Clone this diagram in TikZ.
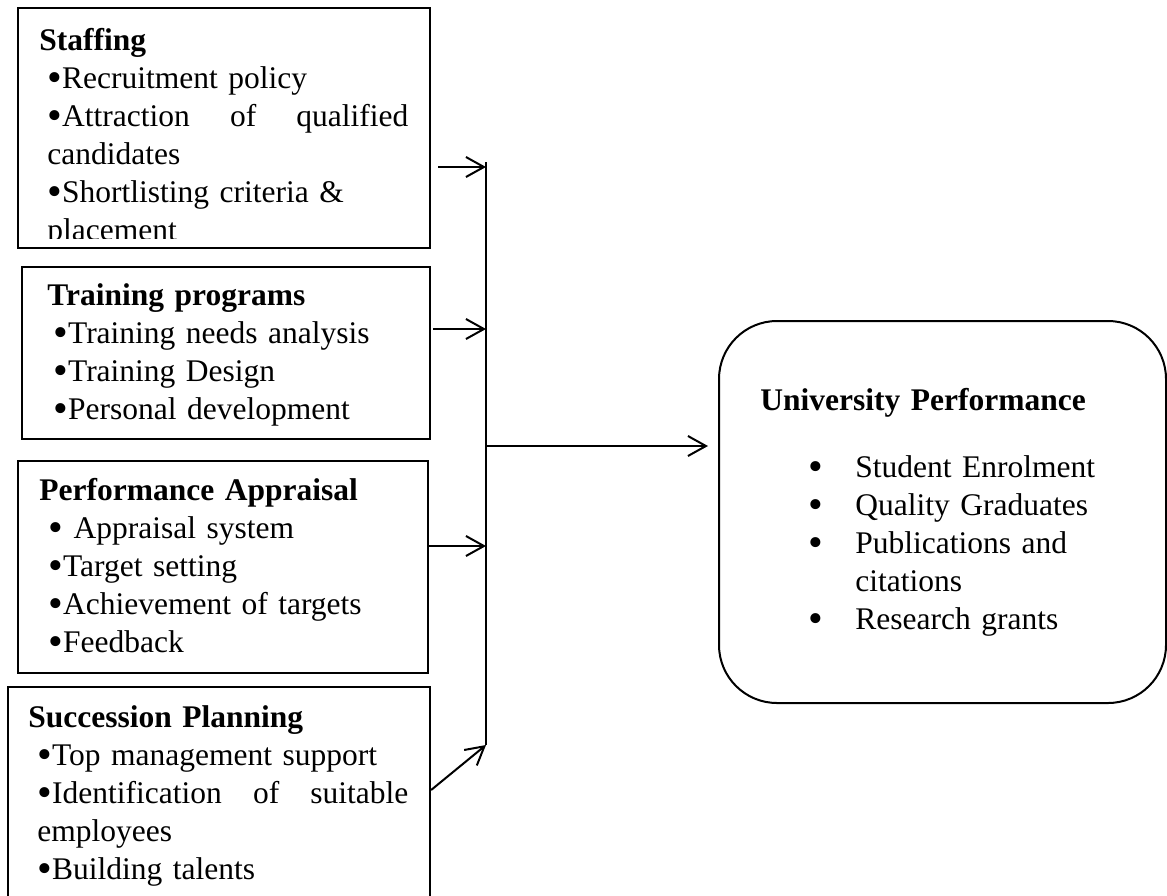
\documentclass[tikz,border=0pt]{standalone}
\usepackage{fontspec}
\setmainfont{Liberation Serif}
\usetikzlibrary{arrows.meta,calc}

\tikzset{
  hrmbox/.style={draw, line width=1.1pt, inner sep=0pt},
  hrmtext/.style={inner sep=0pt, anchor=base west, align=left, font=\fontsize{15.75}{19}\selectfont},
  flow/.style={line width=1pt, -{Straight Barb[length=9pt,width=10pt]}},
}
\newcommand{\spreadline}[2]{\leavevmode\hbox to #1{#2}}
\newcommand{\hrb}{\raisebox{-1.5pt}{\fontsize{21}{19}\selectfont•}}

\begin{document}
\begin{tikzpicture}[x=0.5pt,y=-0.5pt]
\useasboundingbox (0,0) rectangle (1167,895);
\clip (0,0) rectangle (1167,895);

% HR practice boxes
\node[hrmbox, minimum width=206pt, minimum height=120pt] (staff) at (224,128) {};
\node[hrmbox, minimum width=204pt, minimum height=86pt] (train) at (226,353) {};
\node[hrmbox, minimum width=205pt, minimum height=106pt] (apprs) at (223,567) {};
\node[hrmbox, minimum width=211pt, minimum height=114pt] (succ) at (219,801) {};

% outcome box
\node[hrmbox, line width=1pt, rounded corners=29pt, minimum width=223.5pt, minimum height=191pt] (perf) at (942.5,512) {};

% texts of the boxes
\begin{scope}
\clip (staff.north west) rectangle ([yshift=5.5pt]staff.south east);
\node[hrmtext, text width=180.5pt] (stafftxt) at (47,50) {\hspace*{-4pt}\textbf{Staffing}\\
\hrb Recruitment policy\\
\spreadline{180.5pt}{\hrb Attraction\hfill of\hfill qualified}\\
candidates\\
\hrb Shortlisting criteria \&\\
placement};
\end{scope}

\node[hrmtext, text width=185pt] (traintxt) at (53,305) {\hspace*{-3pt}\textbf{Training programs}\\
\hrb Training needs analysis\\
\hrb Training Design\\
\hrb Personal development};

\node[hrmtext, text width=185pt] (apprstxt) at (48,500) {\hspace*{-4.5pt}\textbf{Performance Appraisal}\\
\hrb{} Appraisal system\\
\hrb Target setting\\
\hrb Achievement of targets\\
\hrb Feedback};

\node[hrmtext, text width=185.5pt] (succtxt) at (37,727) {\hspace*{-4.5pt}\textbf{Succession Planning}\\
\hrb Top management support\\
\spreadline{185.5pt}{\hrb Identification\hfill of\hfill suitable}\\
employees\\
\hrb Building talents};

\node[hrmtext, text width=190pt] (perftxt) at (760,410) {\textbf{University Performance}\\[14.5pt]
\hspace*{24pt}\makebox[23.5pt][l]{\hrb}Student Enrolment\\
\hspace*{24pt}\makebox[23.5pt][l]{\hrb}Quality Graduates\\
\hspace*{24pt}\makebox[23.5pt][l]{\hrb}Publications and\\
\hspace*{47.5pt}citations\\
\hspace*{24pt}\makebox[23.5pt][l]{\hrb}Research grants};

% collecting line and arrows
\coordinate (bustop) at (486,162);
\coordinate (busbot) at (486,745);
\draw[line width=1pt] (bustop) -- (busbot);

\draw[flow] ($(staff.east)+(3.5pt,-19.5pt)$) coordinate (s1) -- (s1 -| bustop);
\draw[flow] ($(train.east)+(1pt,12pt)$) coordinate (s2) -- (s2 -| bustop);
\draw[flow] ($(apprs.east)+(0pt,10.5pt)$) coordinate (s3) -- (s3 -| bustop);
\draw[flow] ($(succ.east)+(0pt,5.5pt)$) -- (busbot);

\coordinate (pin) at ($(perf.west)+(-5pt,33pt)$);
\draw[flow] (pin -| bustop) -- (pin);

\end{tikzpicture}
\end{document}
